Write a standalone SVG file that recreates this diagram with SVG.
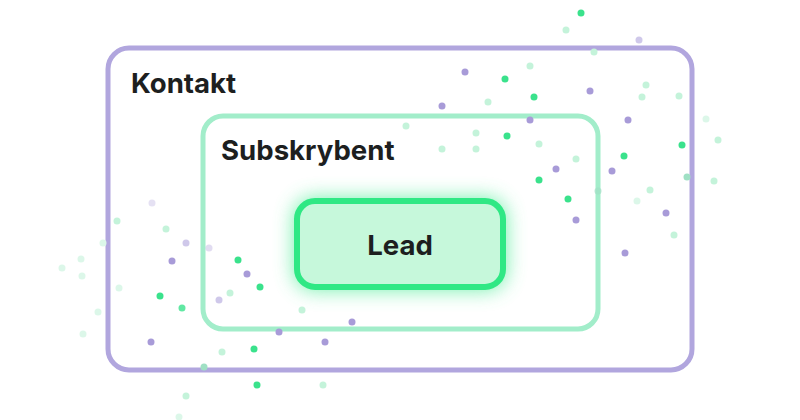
<svg xmlns="http://www.w3.org/2000/svg" width="800" height="420" viewBox="0 0 800 420">
  <defs>
    <filter id="glow" x="-30%" y="-60%" width="160%" height="220%">
      <feGaussianBlur stdDeviation="10"/>
    </filter>
    <style>
      .lbl { font-family: Inter, "Liberation Sans", sans-serif; font-weight: 700; font-size: 27.6px; fill: #1d1f1f; }
      .g { fill: #3ae28c; }
      .p { fill: #a89bd8; }
      .pl { fill: #a89bd8; opacity: 0.55; }
      .l { fill: #c4f3da; }
      .f { fill: #dcf7e9; }
      .t { fill: #9fe0c4; }
    </style>
  </defs>
  <rect width="800" height="420" fill="#ffffff"/>

  <g id="kontakt">
    <rect x="108" y="48" width="584" height="322" rx="21" fill="none" stroke="#b1a6de" stroke-width="5"/>
    <text class="lbl" x="131" y="93">Kontakt</text>
  </g>

  <g id="subskrybent">
    <rect x="203" y="116" width="395" height="213" rx="20" fill="none" stroke="#a2edca" stroke-width="5"/>
    <text class="lbl" x="221" y="160">Subskrybent</text>
  </g>

  <g id="lead">
    <rect x="294" y="198" width="212" height="92" rx="20" fill="#4eec95" opacity="0.8" filter="url(#glow)"/>
    <rect x="297" y="201" width="206" height="86" rx="18" fill="#c6f8db" stroke="#2fe884" stroke-width="6"/>
    <text class="lbl" x="400" y="255" text-anchor="middle">Lead</text>
  </g>

  <g id="connectors"/>

  <g id="dots">
    <circle class="g" cx="581" cy="13" r="3.5"/>
    <circle class="g" cx="505" cy="79" r="3.5"/>
    <circle class="g" cx="534" cy="97" r="3.5"/>
    <circle class="g" cx="507" cy="136" r="3.5"/>
    <circle class="g" cx="682" cy="145" r="3.5"/>
    <circle class="g" cx="624" cy="156" r="3.5"/>
    <circle class="g" cx="539" cy="180" r="3.5"/>
    <circle class="g" cx="568" cy="199" r="3.5"/>
    <circle class="g" cx="238" cy="260" r="3.5"/>
    <circle class="g" cx="260" cy="287" r="3.5"/>
    <circle class="g" cx="160" cy="296" r="3.5"/>
    <circle class="g" cx="182" cy="308" r="3.5" opacity="0.8"/>
    <circle class="g" cx="254" cy="349" r="3.5"/>
    <circle class="g" cx="257" cy="385" r="3.5"/>

    <circle class="pl" cx="639" cy="40" r="3.5"/>
    <circle class="p" cx="465" cy="72" r="3.5"/>
    <circle class="p" cx="442" cy="106" r="3.5"/>
    <circle class="p" cx="590" cy="91" r="3.5"/>
    <circle class="p" cx="628" cy="120" r="3.5"/>
    <circle class="p" cx="530" cy="120" r="3.5"/>
    <circle class="p" cx="556" cy="169" r="3.5"/>
    <circle class="p" cx="612" cy="171" r="3.5"/>
    <circle class="p" cx="666" cy="213" r="3.5"/>
    <circle class="p" cx="576" cy="220" r="3.5"/>
    <circle class="p" cx="625" cy="253" r="3.5"/>
    <circle class="pl" cx="186" cy="243" r="3.5"/>
    <circle class="p" cx="172" cy="261" r="3.5"/>
    <circle class="p" cx="247" cy="274" r="3.5"/>
    <circle class="pl" cx="219" cy="300" r="3.5"/>
    <circle class="p" cx="352" cy="322" r="3.5"/>
    <circle class="p" cx="279" cy="332" r="3.5"/>
    <circle class="p" cx="151" cy="342" r="3.5"/>
    <circle class="p" cx="325" cy="342" r="3.5"/>
    <circle class="p" cx="152" cy="203" r="3.5" opacity="0.3"/>
    <circle class="p" cx="209" cy="248" r="3.5" opacity="0.35"/>

    <circle class="l" cx="566" cy="30" r="3.5"/>
    <circle class="l" cx="594" cy="52" r="3.5"/>
    <circle class="l" cx="530" cy="66" r="3.5"/>
    <circle class="l" cx="488" cy="102" r="3.5"/>
    <circle class="l" cx="646" cy="85" r="3.5"/>
    <circle class="l" cx="642" cy="97" r="3.5"/>
    <circle class="l" cx="679" cy="96" r="3.5"/>
    <circle class="l" cx="406" cy="126" r="3.5"/>
    <circle class="l" cx="476" cy="133" r="3.5"/>
    <circle class="l" cx="539" cy="144" r="3.5"/>
    <circle class="l" cx="442" cy="149" r="3.5"/>
    <circle class="l" cx="476" cy="149" r="3.5"/>
    <circle class="l" cx="718" cy="140" r="3.5"/>
    <circle class="l" cx="576" cy="159" r="3.5"/>
    <circle class="l" cx="714" cy="181" r="3.5"/>
    <circle class="l" cx="650" cy="190" r="3.5"/>
    <circle class="l" cx="674" cy="235" r="3.5"/>
    <circle class="l" cx="117" cy="221" r="3.5"/>
    <circle class="l" cx="166" cy="229" r="3.5"/>
    <circle class="l" cx="230" cy="293" r="3.5"/>
    <circle class="l" cx="302" cy="310" r="3.5"/>
    <circle class="l" cx="222" cy="352" r="3.5"/>
    <circle class="l" cx="323" cy="385" r="3.5"/>
    <circle class="l" cx="186" cy="396" r="3.5"/>

    <circle class="f" cx="706" cy="119" r="3.5"/>
    <circle class="f" cx="637" cy="201" r="3.5"/>
    <circle class="f" cx="103" cy="243" r="3.5"/>
    <circle class="f" cx="81" cy="259" r="3.5"/>
    <circle class="f" cx="62" cy="268" r="3.5"/>
    <circle class="f" cx="82" cy="276" r="3.5"/>
    <circle class="f" cx="119" cy="288" r="3.5"/>
    <circle class="f" cx="98" cy="312" r="3.5"/>
    <circle class="f" cx="83" cy="334" r="3.5"/>
    <circle class="f" cx="179" cy="417" r="3.5"/>

    <circle class="t" cx="687" cy="177" r="3.5"/>
    <circle class="t" cx="598" cy="191" r="3.5" opacity="0.7"/>
    <circle class="t" cx="204" cy="367" r="3.5"/>
  </g>
</svg>
